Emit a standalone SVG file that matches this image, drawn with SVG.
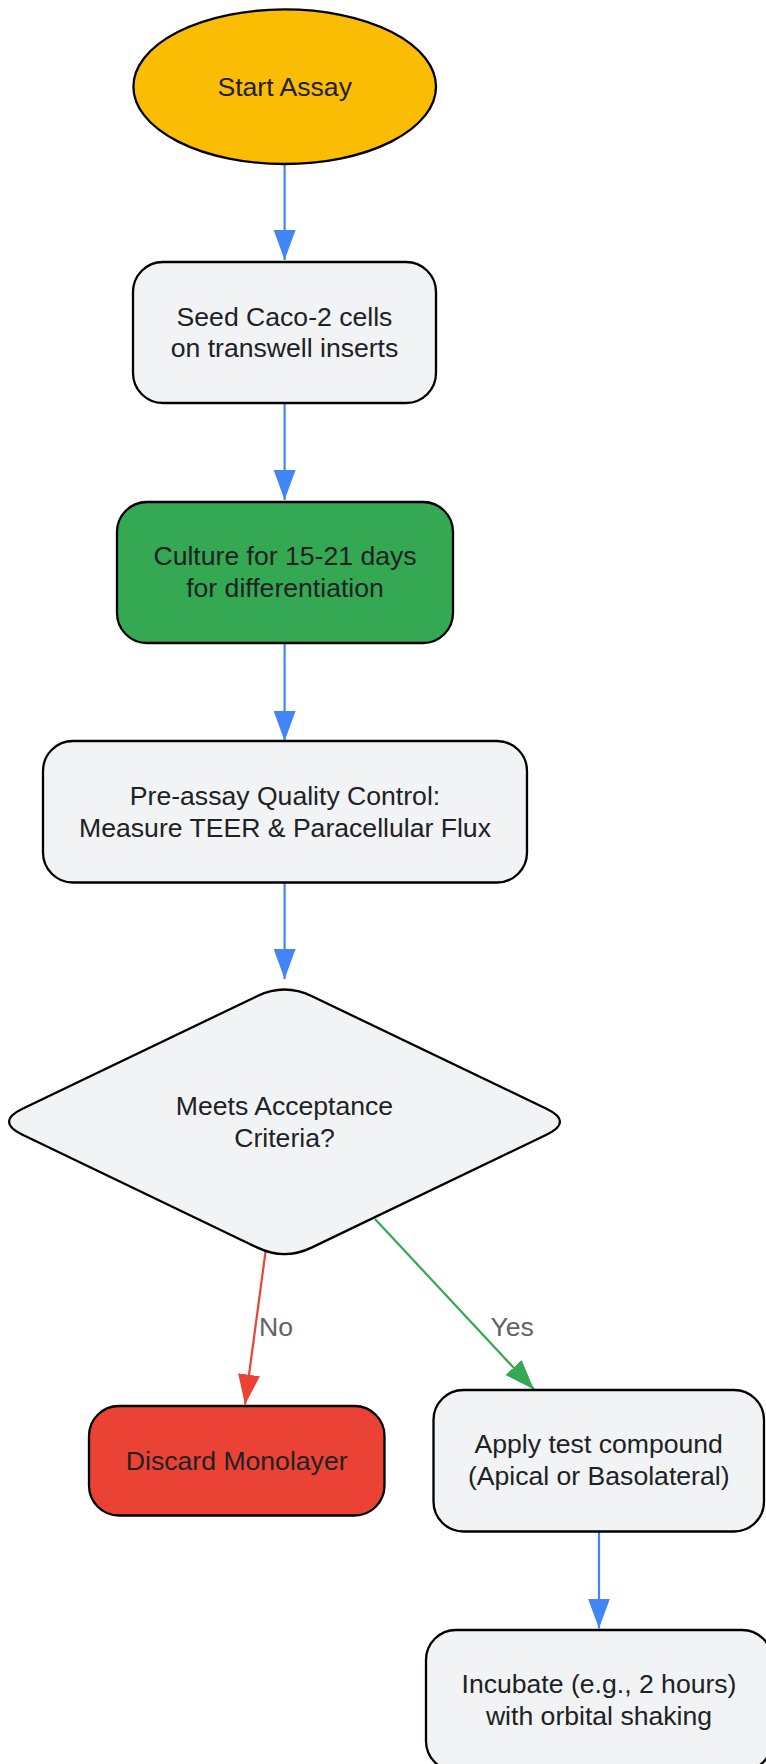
<svg xmlns="http://www.w3.org/2000/svg" width="766" height="1764" viewBox="0 0 766 1764">
<defs>
<style>
.node{stroke:#000;stroke-width:2.3}
.grey{fill:#F1F3F4}
.t{font-family:"Liberation Sans",Arial,Helvetica,sans-serif;font-size:26.6px;fill:#202124;text-anchor:middle}
.lbl{font-family:"Liberation Sans",Arial,Helvetica,sans-serif;font-size:26.6px;fill:#5F6368}
.e{fill:none;stroke-width:2.2}
</style>
<marker id="ab" viewBox="0 0 30 22" refX="30" refY="11" markerWidth="30" markerHeight="22" markerUnits="userSpaceOnUse" orient="auto"><path d="M0,0 L30,11 L0,22 z" fill="#4285F4"/></marker>
<marker id="ar" viewBox="0 0 30 22" refX="30" refY="11" markerWidth="30" markerHeight="22" markerUnits="userSpaceOnUse" orient="auto"><path d="M0,0 L30,11 L0,22 z" fill="#EA4335"/></marker>
<marker id="ag" viewBox="0 0 30 22" refX="30" refY="11" markerWidth="30" markerHeight="22" markerUnits="userSpaceOnUse" orient="auto"><path d="M0,0 L30,11 L0,22 z" fill="#34A853"/></marker>
</defs>
<rect width="766" height="1764" fill="#fff"/>
<g id="connectors">
<path class="e" stroke="#4285F4" d="M284.6,164 L284.6,260" marker-end="url(#ab)"/>
<path class="e" stroke="#4285F4" d="M284.6,403.5 L284.6,500" marker-end="url(#ab)"/>
<path class="e" stroke="#4285F4" d="M284.6,643 L284.6,741" marker-end="url(#ab)"/>
<path class="e" stroke="#4285F4" d="M284.6,882.5 L284.6,979" marker-end="url(#ab)"/>
<path class="e" stroke="#EA4335" d="M265.5,1252 L245,1404.5" marker-end="url(#ar)"/>
<path class="e" stroke="#34A853" d="M375,1219 L534,1389.5" marker-end="url(#ag)"/>
<path class="e" stroke="#4285F4" d="M599,1531.5 L599,1628.5" marker-end="url(#ab)"/>
<text class="lbl" x="259" y="1336">No</text>
<text class="lbl" x="490.5" y="1336">Yes</text>
</g>
<g id="start">
<ellipse class="node" cx="284.7" cy="86.7" rx="151.3" ry="77.3" fill="#FBBC04"/>
<text class="t" x="284.7" y="96">Start Assay</text>
</g>
<g id="seed">
<rect class="node grey" x="133" y="262" width="303" height="141" rx="30" ry="30"/>
<text class="t" x="284.5" y="326">Seed Caco-2 cells</text>
<text class="t" x="284.5" y="357.3">on transwell inserts</text>
</g>
<g id="culture">
<rect class="node" x="117" y="502" width="336" height="141" rx="30" ry="30" fill="#34A853"/>
<text class="t" x="285" y="565">Culture for 15-21 days</text>
<text class="t" x="285" y="596.7">for differentiation</text>
</g>
<g id="qc">
<rect class="node grey" x="43" y="741" width="484" height="141.5" rx="30" ry="30"/>
<text class="t" x="285" y="805">Pre-assay Quality Control:</text>
<text class="t" x="285" y="836.7">Measure TEER &amp; Paracellular Flux</text>
</g>
<g id="decision">
<path class="node grey" d="M257.46,995.99 Q284.5,983 311.54,995.99 L546.46,1108.81 Q573.5,1121.8 546.46,1134.79 L311.54,1247.61 Q284.5,1260.6 257.46,1247.61 L22.54,1134.79 Q-4.5,1121.8 22.54,1108.81 Z"/>
<text class="t" x="284.5" y="1115">Meets Acceptance</text>
<text class="t" x="284.5" y="1146.7">Criteria?</text>
</g>
<g id="discard">
<rect class="node" x="89" y="1406" width="295.5" height="109.5" rx="30" ry="30" fill="#EA4335"/>
<text class="t" x="236.7" y="1470">Discard Monolayer</text>
</g>
<g id="apply">
<rect class="node grey" x="433.5" y="1390" width="330.5" height="141.5" rx="30" ry="30"/>
<text class="t" x="598.7" y="1453.3">Apply test compound</text>
<text class="t" x="598.7" y="1485">(Apical or Basolateral)</text>
</g>
<g id="incubate">
<rect class="node grey" x="426" y="1630" width="346" height="141" rx="30" ry="30"/>
<text class="t" x="599" y="1693.3">Incubate (e.g., 2 hours)</text>
<text class="t" x="599" y="1725">with orbital shaking</text>
</g>
</svg>
